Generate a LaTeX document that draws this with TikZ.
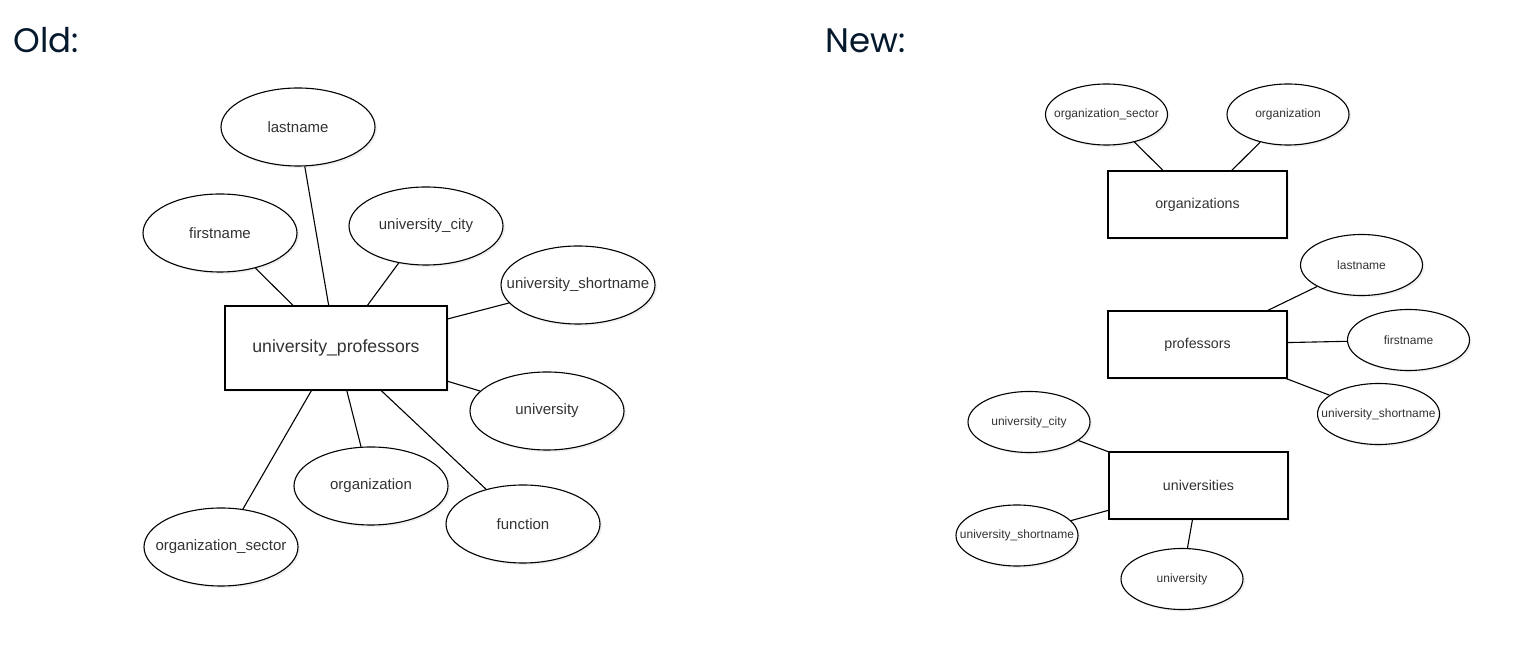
\documentclass[tikz,border=0pt]{standalone}
\usepackage{fontspec}
\setmainfont{Liberation Sans}
\newfontfamily\titlefont{Poppins}
\usetikzlibrary{shapes.geometric,shadows}
\definecolor{navy}{HTML}{05192D}

\begin{document}
\begin{tikzpicture}[x=0.5pt,y=-0.5pt,line width=0.55pt,
  title/.style={text=navy, inner sep=0pt, anchor=base west, font=\titlefont\fontsize{17}{21}\selectfont},
  attr/.style={draw, ellipse, fill=white, text=black!80, inner xsep=-10pt, minimum width=77pt, minimum height=39pt,
    font=\fontsize{7.5}{9}\selectfont, drop shadow={shadow xshift=1pt, shadow yshift=-1pt, opacity=0.12}},
  entity/.style={draw, rectangle, fill=white, text=black!80, minimum width=111pt, minimum height=42pt,
    font=\fontsize{8.85}{10}\selectfont, drop shadow={shadow xshift=1pt, shadow yshift=-1pt, opacity=0.12}},
  attrsmall/.style={attr, minimum width=61pt, minimum height=30.5pt, font=\fontsize{6}{7}\selectfont},
  entitysmall/.style={entity, minimum width=89.5pt, minimum height=33.5pt, font=\fontsize{7.1}{8.5}\selectfont}]
\useasboundingbox (0,0) rectangle (1517,651);

% old
\node[title] (old) at (13,53) {Old:};
\node[entity] (upro) at (336,348) {university\_professors};
\node[attr] (lname) at (298,127) {lastname};
\node[attr] (fname) at (220,233) {firstname};
\node[attr] (ucity) at (426,226) {university\_city};
\node[attr] (ushort) at (578,285) {university\_shortname};
\node[attr] (univ) at (547,411) {university};
\node[attr] (org) at (371,486) {organization};
\node[attr] (func) at (523,524) {function};
\node[attr] (osect) at (221,547) {organization\_sector};

\foreach \a in {lname,fname,ucity,ushort,univ,org,func,osect}
  \draw (\a) -- (upro);

% new
\node[title] (new) at (825,53) {New:};
\node[entitysmall] (orgs) at (1197.5,204.5) {organizations};
\node[attrsmall] (norgsect) at (1106.5,114.5) {organization\_sector};
\node[attrsmall] (norg) at (1288,114.5) {organization};

\node[entitysmall] (profs) at (1197.5,344.5) {professors};
\node[attrsmall] (nlname) at (1361.5,265) {lastname};
\node[attrsmall] (nfname) at (1408.5,340) {firstname};
\node[attrsmall] (nushort) at (1378.5,414) {university\_shortname};

\node[entitysmall] (unis) at (1198.5,485.5) {universities};
\node[attrsmall] (nucity) at (1029,422) {university\_city};
\node[attrsmall] (nushortb) at (1017,535.5) {university\_shortname};
\node[attrsmall] (nuniv) at (1182,579) {university};

\foreach \a in {norgsect,norg}
  \draw (\a) -- (orgs);
\foreach \a in {nlname,nfname,nushort}
  \draw (\a) -- (profs);
\foreach \a in {nucity,nushortb,nuniv}
  \draw (\a) -- (unis);
\end{tikzpicture}
\end{document}
